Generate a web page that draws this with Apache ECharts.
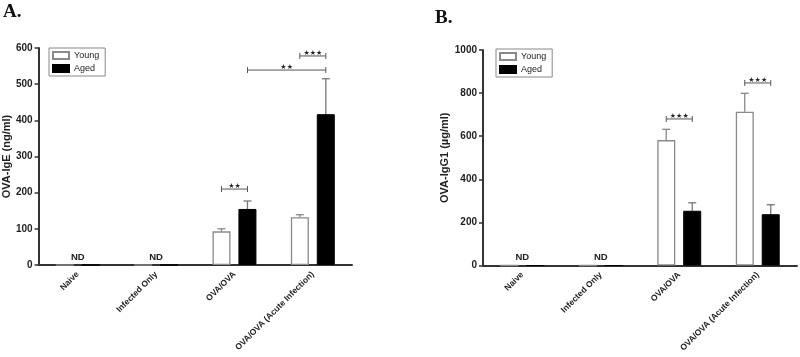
<!DOCTYPE html>
<html><head><meta charset="utf-8">
<script src="https://cdn.jsdelivr.net/npm/echarts@6/dist/echarts.min.js"></script>
<style>html,body{margin:0;padding:0;background:#fff}#c{width:800px;height:357px}</style>
</head><body><div id="c"></div>
<script>
const categories = ['Naive', 'Infected Only', 'OVA/OVA', 'OVA/OVA (Acute Infection)'];
const yTicksA = [0, 100, 200, 300, 400, 500, 600];
const yTicksB = [0, 200, 400, 600, 800, 1000];
// Panel A: OVA-IgE (ng/ml)
const igeYoung = [0, 0, 93, 132];
const igeYoungSem = [0, 0, 7, 7];
const igeAged = [0, 0, 155, 417];
const igeAgedSem = [0, 0, 22, 98];
// Panel B: OVA-IgG1 (ug/ml)
const igg1Young = [0, 0, 582, 714];
const igg1YoungSem = [0, 0, 50, 85];
const igg1Aged = [0, 0, 254, 238];
const igg1AgedSem = [0, 0, 37, 44];
// ND labels (category index)
const ndCats = [0, 1];
// significance: [fromCat, fromSeries, toCat, toSeries, yValue, text]
const sigA = [[2, 0, 2, 1, 210, '\u2605\u2605'], [3, 0, 3, 1, 578, '\u2605\u2605\u2605'], [2, 1, 3, 1, 539, '\u2605\u2605']];
const sigB = [[2, 0, 2, 1, 680, '\u2605\u2605\u2605'], [3, 0, 3, 1, 847, '\u2605\u2605\u2605']];

const OFF = 13;
const FONT = '"Liberation Sans", Arial, sans-serif';

function errSeries(gi, vals, sems, sIdx, color) {
  return {
    type: 'custom', xAxisIndex: gi, yAxisIndex: gi, z: 1,
    data: vals.map((v, i) => [i, v, v + sems[i]]),
    renderItem: (p, api) => {
      const base = api.coord([api.value(0), api.value(1)]);
      const top = api.coord([api.value(0), api.value(2)]);
      if (api.value(2) <= api.value(1)) return;
      const x = base[0] + (sIdx === 0 ? -OFF : OFF);
      return { type: 'group', children: [
        { type: 'line', shape: { x1: x, y1: base[1], x2: x, y2: top[1] }, style: { stroke: color, lineWidth: 1.3 } },
        { type: 'line', shape: { x1: x - 4, y1: top[1], x2: x + 4, y2: top[1] }, style: { stroke: color, lineWidth: 1.3 } }
      ]};
    }
  };
}
function sigSeries(gi, sig) {
  return {
    type: 'custom', xAxisIndex: gi, yAxisIndex: gi, z: 5,
    data: sig.map(s => [s[0], s[4], s[2], s[1], s[3]]),
    renderItem: (p, api) => {
      const a = api.coord([api.value(0), api.value(1)]);
      const b = api.coord([api.value(2), api.value(1)]);
      const x1 = a[0] + (api.value(3) === 0 ? -OFF : OFF);
      const x2 = b[0] + (api.value(4) === 0 ? -OFF : OFF);
      const y = a[1];
      const c = '#555';
      return { type: 'group', children: [
        { type: 'line', shape: { x1: x1, y1: y, x2: x2, y2: y }, style: { stroke: c, lineWidth: 1 } },
        { type: 'line', shape: { x1: x1, y1: y - 3, x2: x1, y2: y + 3 }, style: { stroke: c, lineWidth: 1 } },
        { type: 'line', shape: { x1: x2, y1: y - 3, x2: x2, y2: y + 3 }, style: { stroke: c, lineWidth: 1 } },
        { type: 'text', style: { text: sig[p.dataIndex][5], x: (x1 + x2) / 2, y: y + 1, align: 'center', verticalAlign: 'bottom', font: '7px "DejaVu Sans", sans-serif', fill: '#222' } }
      ]};
    }
  };
}
function ndSeries(gi) {
  return {
    type: 'custom', xAxisIndex: gi, yAxisIndex: gi, z: 5,
    data: ndCats.map(c => [c, 0]),
    renderItem: (p, api) => {
      const pt = api.coord([api.value(0), 0]);
      return { type: 'text', style: { text: 'ND', x: pt[0], y: pt[1] - 3, align: 'center', verticalAlign: 'bottom', font: 'bold 9.5px ' + FONT, fill: '#222' } };
    }
  };
}
function xAx(gi) {
  return {
    type: 'category', gridIndex: gi, data: categories,
    axisLine: { lineStyle: { color: '#333', width: 2 } },
    axisTick: { alignWithLabel: true, length: 4, lineStyle: { color: '#333', width: 1.5 }, interval: 0 },
    axisLabel: { rotate: 45, interval: 0, fontSize: 8.5, fontWeight: 'bold', color: '#222', fontFamily: FONT, margin: 8 }
  };
}
function yAx(gi, max, interval, name, gap) {
  return {
    type: 'value', gridIndex: gi, min: 0, max: max, interval: interval, name: name,
    nameLocation: 'middle', nameGap: gap, nameRotate: 90,
    nameTextStyle: { fontSize: 11, fontWeight: 'bold', color: '#222', fontFamily: FONT },
    axisLine: { show: true, lineStyle: { color: '#333', width: 2 } },
    axisTick: { show: true, length: 4, lineStyle: { color: '#333', width: 1.5 } },
    axisLabel: { fontSize: 10, fontWeight: 'bold', color: '#222', fontFamily: FONT, margin: 6, formatter: v => String(v) },
    splitLine: { show: false }
  };
}
const youngStyle = { color: '#fff', borderColor: '#8a8a8a', borderWidth: 1.3 };
const agedStyle = { color: '#000', borderColor: '#000', borderWidth: 1 };
function legend(left, top) {
  return {
    left: left, top: top, orient: 'vertical', data: ['Young', 'Aged'],
    borderColor: '#888', borderWidth: 1, padding: [3, 6, 3, 3], itemGap: 4,
    itemWidth: 16, itemHeight: 7, icon: 'rect',
    textStyle: { fontSize: 9, color: '#222', fontFamily: FONT }
  };
}

const chart = echarts.init(document.getElementById('c'));
chart.setOption({
  animation: false,
  backgroundColor: '#fff',
  grid: [
    { left: 38, top: 48, width: 314, height: 217 },
    { left: 483, top: 50, width: 314, height: 215.5 }
  ],
  xAxis: [xAx(0), xAx(1)],
  yAxis: [yAx(0, 600, 100, 'OVA-IgE (ng/ml)', 23), yAx(1, 1000, 200, 'OVA-IgG1 (\u00b5g/ml)', 22)],
  legend: [legend(49, 48), legend(496, 49)],
  graphic: [
    { type: 'text', left: 3, top: 3, style: { text: 'A.', font: 'bold 19px "Liberation Serif", "Times New Roman", serif', fill: '#111' } },
    { type: 'text', left: 435, top: 9, style: { text: 'B.', font: 'bold 19px "Liberation Serif", "Times New Roman", serif', fill: '#111' } }
  ],
  series: [
    { name: 'Young', type: 'bar', xAxisIndex: 0, yAxisIndex: 0, data: igeYoung, barWidth: 18, barGap: '44%', itemStyle: youngStyle, z: 2 },
    { name: 'Aged', type: 'bar', xAxisIndex: 0, yAxisIndex: 0, data: igeAged, barWidth: 18, barGap: '44%', itemStyle: agedStyle, z: 2 },
    { name: 'Young', type: 'bar', xAxisIndex: 1, yAxisIndex: 1, data: igg1Young, barWidth: 18, barGap: '44%', itemStyle: youngStyle, z: 2 },
    { name: 'Aged', type: 'bar', xAxisIndex: 1, yAxisIndex: 1, data: igg1Aged, barWidth: 18, barGap: '44%', itemStyle: agedStyle, z: 2 },
    errSeries(0, igeYoung, igeYoungSem, 0, '#888'),
    errSeries(0, igeAged, igeAgedSem, 1, '#777'),
    errSeries(1, igg1Young, igg1YoungSem, 0, '#888'),
    errSeries(1, igg1Aged, igg1AgedSem, 1, '#777'),
    sigSeries(0, sigA),
    sigSeries(1, sigB),
    ndSeries(0),
    ndSeries(1)
  ]
});
</script>
</body></html>
